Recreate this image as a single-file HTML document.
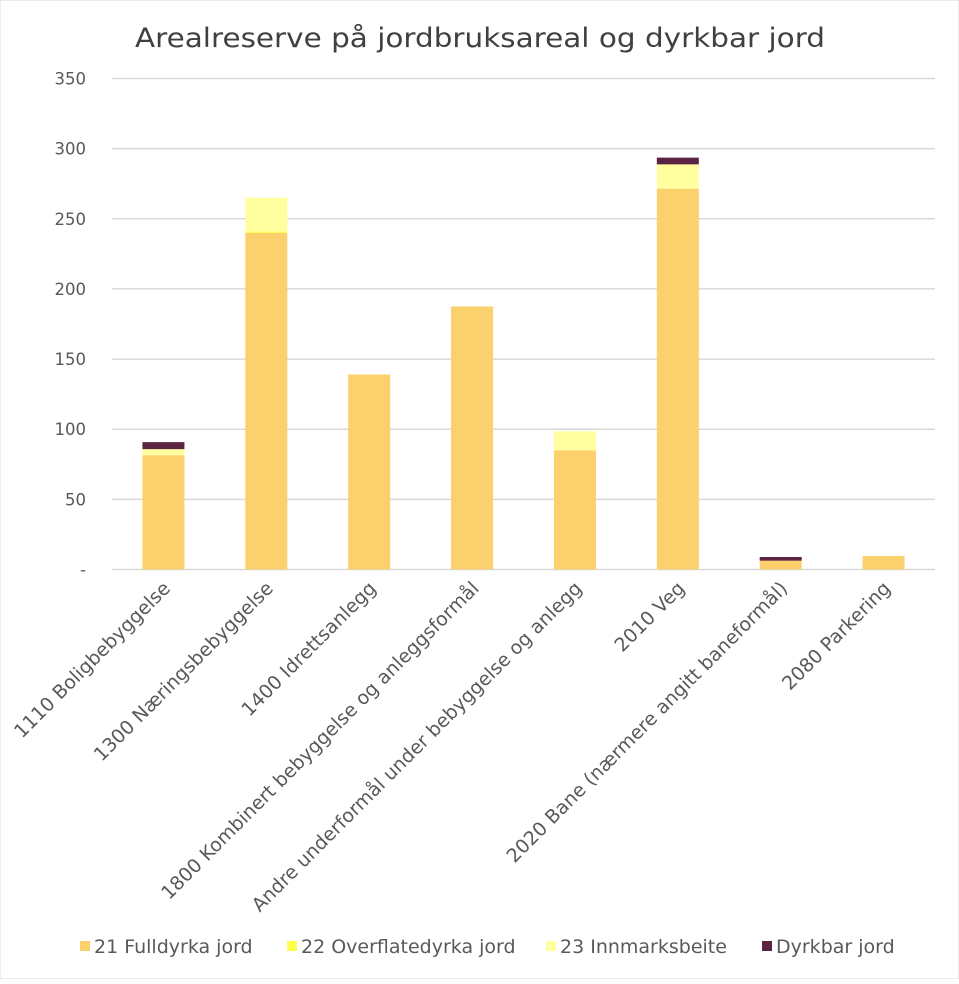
<!DOCTYPE html>
<html><head><meta charset="utf-8"><style>
body{margin:0;background:#fff;}
svg text{font-family:"DejaVu Sans","Liberation Sans",sans-serif;fill:#595959;}
</style></head><body>
<svg id="chart" width="959" height="979" xmlns="http://www.w3.org/2000/svg">
<rect x="0" y="0" width="959" height="979" fill="#fff" stroke="#d9d9d9"/>
<text x="135" y="47" font-size="27" textLength="690" lengthAdjust="spacingAndGlyphs" style="fill:#404040">Arealreserve på jordbruksareal og dyrkbar jord</text>
<g id="grid"></g><g id="bars"></g><g id="xlabels"></g><g id="legend"></g>
</svg>
<script>
const categories=["1110 Boligbebyggelse","1300 Næringsbebyggelse","1400 Idrettsanlegg","1800 Kombinert bebyggelse og anleggsformål","Andre underformål under bebyggelse og anlegg","2010 Veg","2020 Bane (nærmere angitt baneformål)","2080 Parkering"];
const fulldyrka=[81.5,240,139,187.5,85,271.5,6.3,9.6];
const overflatedyrka=[0,1,0,0,0,0,0,0];
const innmarksbeite=[4.3,24,0,0,13.5,17.3,0,0];
const dyrkbar=[5,0,0,0,0,4.8,2.6,0];
const seriesNames=["21 Fulldyrka jord","22 Overflatedyrka jord","23 Innmarksbeite","Dyrkbar jord"];
const yTicks=[0,50,100,150,200,250,300,350];
const yTickLabels=["-","50","100","150","200","250","300","350"];
const colors=["#fdd06e","#ffff4d","#ffff9f","#5a2442"];
const NS="http://www.w3.org/2000/svg";
const x0=112,x1=935,y0=569.5,yTop=78.5;
function yPos(v){return y0-(v/350)*(y0-yTop);}
const step=(x1-x0)/categories.length;
function xCenter(i){return x0+step*(i+0.5);}
function mk(t,a,p){const e=document.createElementNS(NS,t);for(const k in a)e.setAttribute(k,a[k]);p.appendChild(e);return e;}
const grid=document.getElementById('grid');
yTicks.forEach((v,i)=>{
 const l=mk('line',{x1:x0,x2:x1,y1:yPos(v),y2:yPos(v),stroke:'#d9d9d9','stroke-width':1.5},grid);
 
 
 const t=mk('text',{x:86,y:yPos(v)+6,'text-anchor':'end','font-size':16.5},grid);
 t.textContent=yTickLabels[i];
 
 
});
const series=[fulldyrka,overflatedyrka,innmarksbeite,dyrkbar];
const bars=document.getElementById('bars');
categories.forEach((c,i)=>{
 let cum=0;
 series.forEach((s,j)=>{
  const v=s[i];if(v<=0)return;
  const r=mk('rect',{x:xCenter(i)-21,width:42,y:yPos(cum+v),height:yPos(cum)-yPos(cum+v),fill:colors[j]},bars);
  
  
  cum+=v;
 });
 const t=mk('text',{'text-anchor':'end','font-size':19,transform:`translate(${xCenter(i)+8},${y0+20}) rotate(-45)`},document.getElementById('xlabels'));
 t.textContent=c;
 
 
});
const lg=document.getElementById('legend');
const lx=[80,287,546,762];
seriesNames.forEach((n,j)=>{
 const r=mk('rect',{x:lx[j],y:941,width:10,height:10,fill:colors[j]},lg);
 
 
 const t=mk('text',{x:lx[j]+14,y:953,'font-size':19},lg);
 t.textContent=n;
 
 
});
</script>
</body></html>
